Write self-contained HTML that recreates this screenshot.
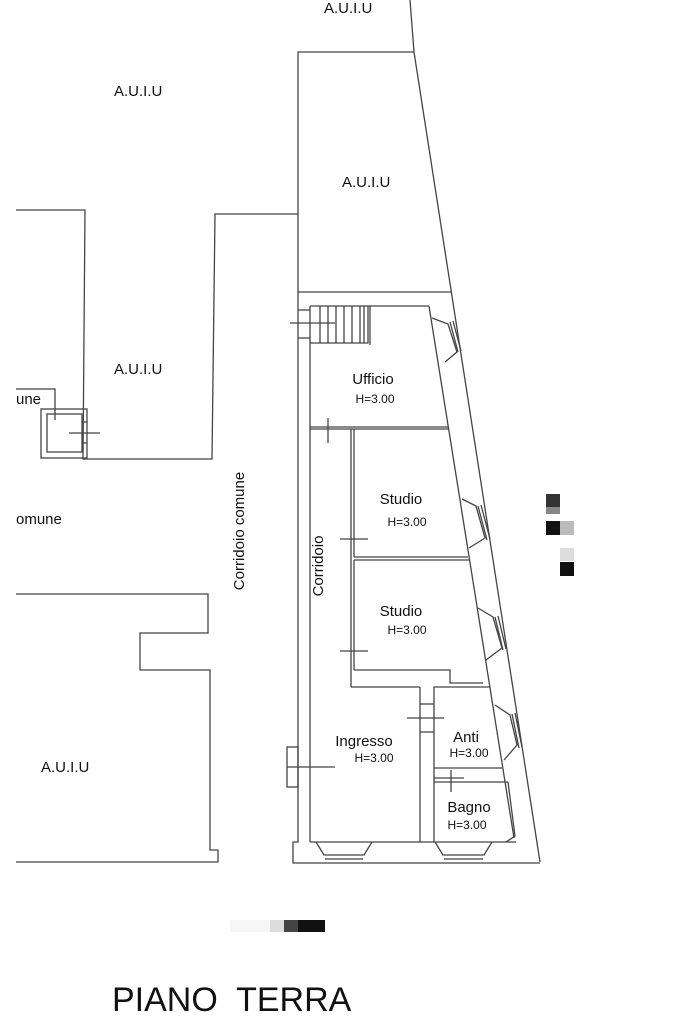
<!DOCTYPE html>
<html><head><meta charset="utf-8"><style>
html,body{margin:0;padding:0;background:#fff;}
svg{display:block;}
text{font-family:"Liberation Sans",sans-serif;fill:#111;}
</style></head><body>
<svg width="683" height="1024" viewBox="0 0 683 1024" xmlns="http://www.w3.org/2000/svg">
<g fill="none" stroke="#444" stroke-width="1.3">
<polyline points="410,0 414,52 540,862"/>
<polyline points="414,52 298,52 298,842 293,842 293,863 540,863"/>
<line x1="298" y1="292" x2="452" y2="292"/>
<line x1="310" y1="306" x2="429" y2="306"/>
<line x1="429" y1="306" x2="514" y2="838"/>
<line x1="310" y1="306" x2="310" y2="842"/>
<line x1="310" y1="842" x2="516" y2="842"/>
<polyline points="310,343 368,343 368,306"/>
<line x1="370" y1="306" x2="370" y2="345"/>
<line x1="320" y1="306" x2="320" y2="343"/><line x1="328" y1="306" x2="328" y2="343"/>
<line x1="336" y1="306" x2="336" y2="343"/><line x1="344" y1="306" x2="344" y2="343"/>
<line x1="352" y1="306" x2="352" y2="343"/><line x1="360" y1="306" x2="360" y2="343"/>
<line x1="364" y1="306" x2="364" y2="343"/>
<line x1="298" y1="310" x2="310" y2="310"/><line x1="298" y1="338" x2="310" y2="338"/>
<line x1="290" y1="323" x2="335" y2="323"/>
<line x1="310" y1="427" x2="448" y2="427"/><line x1="310" y1="429" x2="448" y2="429"/>
<line x1="328" y1="418" x2="328" y2="443"/>
<line x1="351" y1="429" x2="351" y2="687"/><line x1="354" y1="429" x2="354" y2="557"/>
<line x1="354" y1="560" x2="354" y2="670"/>
<line x1="354" y1="557" x2="468" y2="557"/><line x1="354" y1="560" x2="470" y2="560"/>
<line x1="340" y1="539" x2="368" y2="539"/><line x1="340" y1="651" x2="368" y2="651"/>
<polyline points="354,670 450,670 450,683 483,683"/>
<line x1="351" y1="687" x2="420" y2="687"/>
<line x1="420" y1="687" x2="420" y2="842"/>
<polyline points="490,687 434,687 434,842"/>
<line x1="420" y1="704" x2="434" y2="704"/><line x1="420" y1="732" x2="434" y2="732"/>
<line x1="407" y1="718" x2="444" y2="718"/>
<line x1="434" y1="768" x2="502" y2="768"/>
<line x1="434" y1="782" x2="508" y2="782"/><line x1="434" y1="778" x2="464" y2="778"/>
<line x1="451" y1="770" x2="451" y2="792"/>
<polyline points="508,782 515,836 506,842"/>
<rect x="287" y="747" width="11" height="40"/>
<line x1="287" y1="767" x2="335" y2="767"/>
<polyline points="316,842 324,855 364,855 372,842"/>
<line x1="325" y1="859" x2="363" y2="859"/>
<polyline points="435,842 443,855 484,855 492,842"/>
<line x1="444" y1="859" x2="483" y2="859"/>
<polyline points="432,318 448,324 457,352 445,362"/>
<line x1="450" y1="322" x2="458" y2="352"/><line x1="453" y1="321" x2="461" y2="351"/>
<polyline points="462,499 476,506 485,538 469,548"/>
<line x1="478" y1="506" x2="487" y2="540"/><line x1="481" y1="505" x2="490" y2="539"/>
<polyline points="478,608 493,617 502,648 486,660"/>
<line x1="495" y1="617" x2="503" y2="650"/><line x1="498" y1="616" x2="506" y2="649"/>
<polyline points="495,705 510,715 517,745 504,760"/>
<line x1="512" y1="714" x2="519" y2="748"/><line x1="515" y1="713" x2="522" y2="747"/>
<polyline points="16,210 85,210 83,459 212,459 215,214 298,214"/>
<polyline points="16,389 55,389 55,420"/>
<rect x="41" y="409" width="46" height="49"/>
<rect x="47" y="414" width="35" height="38"/>
<line x1="69" y1="433" x2="100" y2="433"/>
<line x1="82" y1="422" x2="87" y2="422"/><line x1="82" y1="443" x2="87" y2="443"/>
<polyline points="16,594 208,594 208,633 140,633 140,670 210,670 210,850 218,850 218,862 16,862"/>
</g>
<rect x="546" y="494" width="14" height="13" fill="#333"/>
<rect x="546" y="507" width="14" height="7" fill="#888"/>
<rect x="546" y="521" width="14" height="14" fill="#111"/>
<rect x="560" y="521" width="14" height="14" fill="#bbb"/>
<rect x="560" y="548" width="14" height="13" fill="#ddd"/>
<rect x="560" y="562" width="14" height="14" fill="#111"/>
<rect x="230" y="920" width="40" height="12" fill="#f6f6f6"/>
<rect x="270" y="920" width="14" height="12" fill="#ddd"/>
<rect x="284" y="920" width="14" height="12" fill="#444"/>
<rect x="298" y="920" width="27" height="12" fill="#111"/>
<g font-size="15">
<text x="324" y="13">A.U.I.U</text>
<text x="114" y="96">A.U.I.U</text>
<text x="342" y="187">A.U.I.U</text>
<text x="114" y="374">A.U.I.U</text>
<text x="41" y="772">A.U.I.U</text>
<text x="16" y="404">une</text>
<text x="16" y="524">omune</text>
<text x="373" y="384" text-anchor="middle">Ufficio</text>
<text x="401" y="504" text-anchor="middle">Studio</text>
<text x="401" y="616" text-anchor="middle">Studio</text>
<text x="364" y="746" text-anchor="middle">Ingresso</text>
<text x="466" y="742" text-anchor="middle">Anti</text>
<text x="469" y="812" text-anchor="middle">Bagno</text>
<text transform="translate(244,531) rotate(-90)" text-anchor="middle">Corridoio comune</text>
<text transform="translate(323,566) rotate(-90)" text-anchor="middle">Corridoio</text>
</g>
<g font-size="12">
<text x="375" y="403" text-anchor="middle" fill="#444">H=3.00</text>
<text x="407" y="526" text-anchor="middle" fill="#444">H=3.00</text>
<text x="407" y="634" text-anchor="middle" fill="#444">H=3.00</text>
<text x="374" y="762" text-anchor="middle" fill="#444">H=3.00</text>
<text x="469" y="757" text-anchor="middle" fill="#444">H=3.00</text>
<text x="467" y="829" text-anchor="middle" fill="#444">H=3.00</text>
</g>
<text x="112" y="1011" font-size="34" xml:space="preserve" style="white-space:pre">PIANO  TERRA</text>
</svg>
</body></html>
